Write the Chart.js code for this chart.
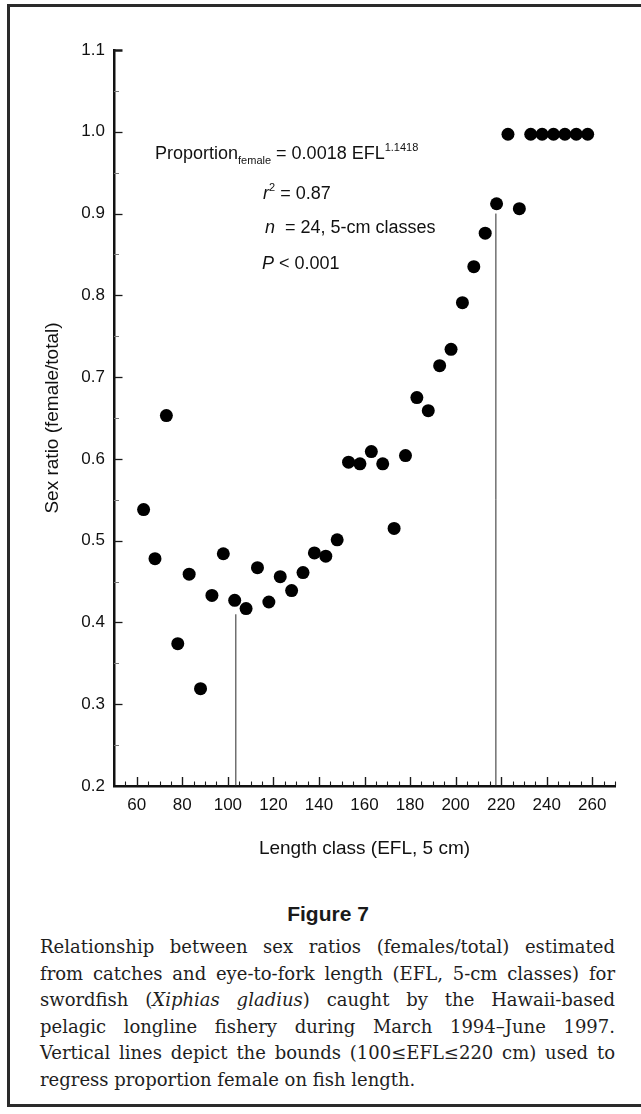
<!DOCTYPE html>
<html>
<head>
<meta charset="utf-8">
<script src="https://cdn.jsdelivr.net/npm/chart.js@4.4.1/dist/chart.umd.min.js"></script>
<style>
  html, body { margin:0; padding:0; background:#fff; }
  body { width:641px; height:1114px; position:relative; overflow:hidden; }
  #frame { position:absolute; left:7px; top:4px; width:720px; height:1097px; border:3px solid #2a2a2a; }
  #c { position:absolute; left:0; top:0; }
  .ann { position:absolute; font-family:'Liberation Sans', Arial, sans-serif; font-size:18px; line-height:18px; white-space:nowrap; color:#111; }
  .ann i { font-style:italic; }
  .sub { font-size:11px; position:relative; top:5px; }
  .sup { font-size:11px; position:relative; top:-8px; }
  #figtitle { position:absolute; left:178px; width:300px; top:903px; text-align:center; font-family:'Liberation Sans', Arial, sans-serif; font-weight:bold; font-size:21px; line-height:21px; color:#1a1a1a; }
  #caption { position:absolute; left:40px; top:934px; width:575px; font-family:'DejaVu Serif', serif; font-size:18px; line-height:26.6px; color:#1e1e1e; }
  #caption div { text-align:justify; text-align-last:justify; }
  #caption div.last { text-align:left; text-align-last:left; }
</style>
</head>
<body>
<div id="frame"></div>
<canvas id="c" width="641" height="880"></canvas>

<div class="ann" style="left:155px; top:144px;">Proportion<span class="sub">female</span> = 0.0018 EFL<span class="sup">1.1418</span></div>
<div class="ann" style="left:263px; top:184px;"><i>r</i><span class="sup">2</span> = 0.87</div>
<div class="ann" style="left:265px; top:218px;"><i>n</i>&nbsp; = 24, 5-cm classes</div>
<div class="ann" style="left:262px; top:254px;"><i>P</i> &lt; 0.001</div>

<div id="figtitle">Figure 7</div>
<div id="caption">
  <div>Relationship between sex ratios (females/total) estimated</div>
  <div>from catches and eye-to-fork length (EFL, 5-cm classes) for</div>
  <div>swordfish (<i>Xiphias gladius</i>) caught by the Hawaii-based</div>
  <div>pelagic longline fishery during March 1994–June 1997.</div>
  <div>Vertical lines depict the bounds (100≤EFL≤220 cm) used to</div>
  <div class="last">regress proportion female on fish length.</div>
</div>

<script>
// ---- data ----
const lengthClass = [63, 68, 73, 78, 83, 88, 93, 98, 103, 108,
                     113, 118, 123, 128, 133, 138, 143, 148, 153, 158,
                     163, 168, 173, 178, 183, 188, 193, 198, 203, 208,
                     213, 218, 223, 228, 233, 238, 243, 248, 253, 258];
const sexRatio = [0.538, 0.478, 0.653, 0.374, 0.459, 0.319, 0.433, 0.484, 0.427, 0.417,
                  0.467, 0.425, 0.456, 0.439, 0.461, 0.485, 0.481, 0.501, 0.596, 0.594,
                  0.609, 0.594, 0.515, 0.604, 0.675, 0.659, 0.714, 0.734, 0.791, 0.835,
                  0.876, 0.912, 0.997, 0.906, 0.997, 0.997, 0.997, 0.997, 0.997, 0.997];
const boundX = [103.5, 217.7];
const boundTop = [0.41, 0.90];
const xTickLabels = [60, 80, 100, 120, 140, 160, 180, 200, 220, 240, 260];
const yTickLabels = ['0.2', '0.3', '0.4', '0.5', '0.6', '0.7', '0.8', '0.9', '1.0', '1.1'];
const xRange = [50, 270];
const yRange = [0.2, 1.1];

const points = lengthClass.map((x, i) => ({x: x, y: sexRatio[i]}));
const boundSets = boundX.map((bx, i) => ({
  type: 'scatter',
  data: [{x: bx, y: yRange[0]}, {x: bx, y: boundTop[i]}],
  showLine: true,
  borderColor: '#2a2a2a',
  borderWidth: 1,
  pointRadius: 0,
  pointHoverRadius: 0,
  order: 2
}));

const isMajorY = v => Math.abs(v * 10 - Math.round(v * 10)) < 1e-6;

const inwardTicks = {
  id: 'inwardTicks',
  afterDatasetsDraw(chart) {
    const ctx = chart.ctx;
    const area = chart.chartArea;
    const xs = chart.scales.x, ys = chart.scales.y;
    ctx.save();
    ctx.strokeStyle = '#1a1a1a';
    xs.ticks.forEach(t => {
      const v = t.value;
      if (v <= xRange[0]) return;
      const px = Math.round(xs.getPixelForValue(v)) + 0.5;
      const major = v % 20 === 0;
      ctx.lineWidth = major ? 1.4 : 1.1;
      ctx.beginPath();
      ctx.moveTo(px, area.bottom);
      ctx.lineTo(px, area.bottom - (major ? 9 : 4.5));
      ctx.stroke();
    });
    ys.ticks.forEach(t => {
      const v = t.value;
      if (v <= yRange[0] + 1e-9) return;
      const py = Math.round(ys.getPixelForValue(v)) + 0.5;
      const major = isMajorY(v);
      const top = Math.abs(v - yRange[1]) < 1e-9;
      ctx.lineWidth = top ? 2.5 : (major ? 1.3 : 1);
      ctx.strokeStyle = major ? '#1a1a1a' : '#777';
      ctx.beginPath();
      ctx.moveTo(area.left, py);
      ctx.lineTo(area.left + (major ? 8.5 : 5), py);
      ctx.stroke();
    });
    ctx.restore();
  }
};

const tickFont = {family: "'Liberation Sans', Arial, sans-serif", size: 17};
const titleFont = {family: "'Liberation Sans', Arial, sans-serif", size: 19};

new Chart(document.getElementById('c'), {
  type: 'scatter',
  data: {
    datasets: [{
      data: points,
      pointRadius: 6.5,
      pointHoverRadius: 6.5,
      pointBackgroundColor: '#000',
      pointBorderWidth: 0,
      showLine: false,
      order: 1
    }, ...boundSets]
  },
  options: {
    responsive: false,
    animation: false,
    events: [],
    layout: {padding: {left: 20, top: 50, right: 26, bottom: 0}},
    plugins: {legend: {display: false}, tooltip: {enabled: false}},
    scales: {
      x: {
        type: 'linear',
        min: xRange[0], max: xRange[1],
        grid: {display: false, drawTicks: false},
        border: {display: true, color: '#111', width: 2.5},
        ticks: {
          stepSize: 5, autoSkip: false, maxRotation: 0, padding: 9,
          color: '#111', font: tickFont,
          callback: v => xTickLabels.includes(v) ? String(v) : ''
        },
        title: {display: true, text: 'Length class (EFL, 5 cm)', color: '#111', font: titleFont, padding: {top: 0, bottom: 20}},
        afterFit: s => { s.height = 94; }
      },
      y: {
        type: 'linear',
        min: yRange[0], max: yRange[1],
        grid: {display: false, drawTicks: false},
        border: {display: true, color: '#111', width: 2.5},
        ticks: {
          stepSize: 0.05, autoSkip: false, padding: 9,
          color: '#111', font: tickFont,
          callback: v => {
            const s = v.toFixed(1);
            return (isMajorY(v) && yTickLabels.includes(s)) ? s : '';
          }
        },
        title: {display: true, text: 'Sex ratio (female/total)', color: '#111', font: titleFont, padding: {top: 21, bottom: 0}},
        afterFit: s => { s.width = 94; }
      }
    }
  },
  plugins: [inwardTicks]
});
</script>
</body>
</html>
